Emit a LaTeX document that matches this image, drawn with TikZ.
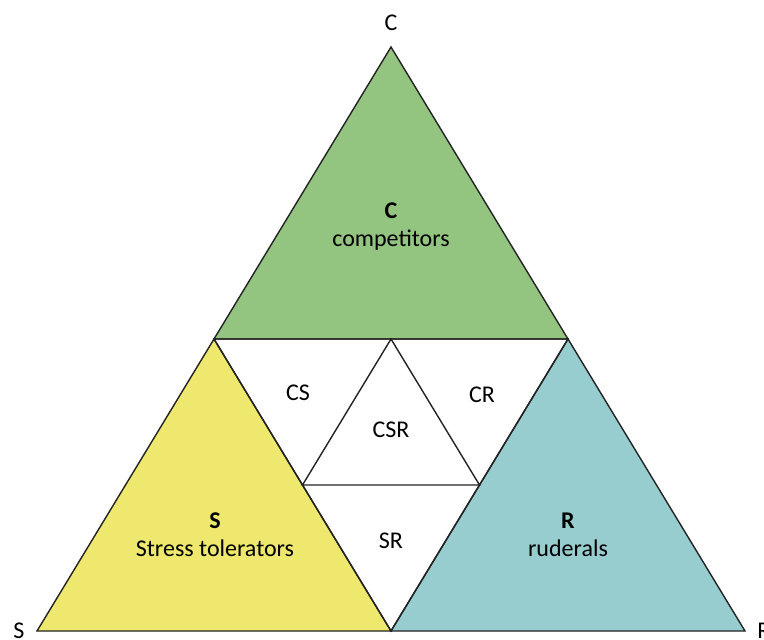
\documentclass[tikz,border=0pt]{standalone}
\usepackage{fontspec}
\setmainfont{Carlito}
\definecolor{cgreen}{RGB}{147,197,129}
\definecolor{syellow}{RGB}{238,233,110}
\definecolor{rteal}{RGB}{151,205,207}
\definecolor{edge}{RGB}{35,35,35}
\tikzset{
  tri/.style={draw=edge, line width=1.4pt, line join=miter},
  lab/.style={font=\fontsize{24}{28}\selectfont, text=black, inner sep=0pt, align=center},
}
\begin{document}
\begin{tikzpicture}[x=1pt,y=-1pt]
\useasboundingbox (0,0) rectangle (764,640);
\fill[white] (0,0) rectangle (764,640);
% vertices
\coordinate (A) at (391,47);
\coordinate (B) at (37,631);
\coordinate (Cr) at (745,631);
\coordinate (mAB) at (214,339);
\coordinate (mAC) at (568,339);
\coordinate (mBC) at (391,631);
\coordinate (iT) at (391,339);
\coordinate (iL) at (302.5,485);
\coordinate (iR) at (479.5,485);
% coloured corner triangles
\filldraw[tri, fill=cgreen] (A) -- (mAB) -- (mAC) -- cycle;
\filldraw[tri, fill=syellow] (mAB) -- (B) -- (mBC) -- cycle;
\filldraw[tri, fill=rteal] (mAC) -- (mBC) -- (Cr) -- cycle;
% inner subdivision
\draw[tri] (mAB) -- (mAC) -- (mBC) -- cycle;
\draw[tri] (iT) -- (iL) -- (iR) -- cycle;
% labels
\node[lab] (lc) at (391,23) {C};
\node[lab] (ls) at (19,631) {S};
\node[lab] (lr) at (764,631) {R};
\node[lab] (tc) at (391,227) {\textbf{C}\\competitors};
\node[lab] (ts) at (215,535) {\textbf{S}\\Stress tolerators};
\node[lab] (tr) at (568,535) {\textbf{R}\\ruderals};
\node[lab] (cs) at (298,393) {CS};
\node[lab] (cr) at (482,395) {CR};
\node[lab] (csr) at (391,430) {CSR};
\node[lab] (sr) at (391,541) {SR};
\end{tikzpicture}
\end{document}
